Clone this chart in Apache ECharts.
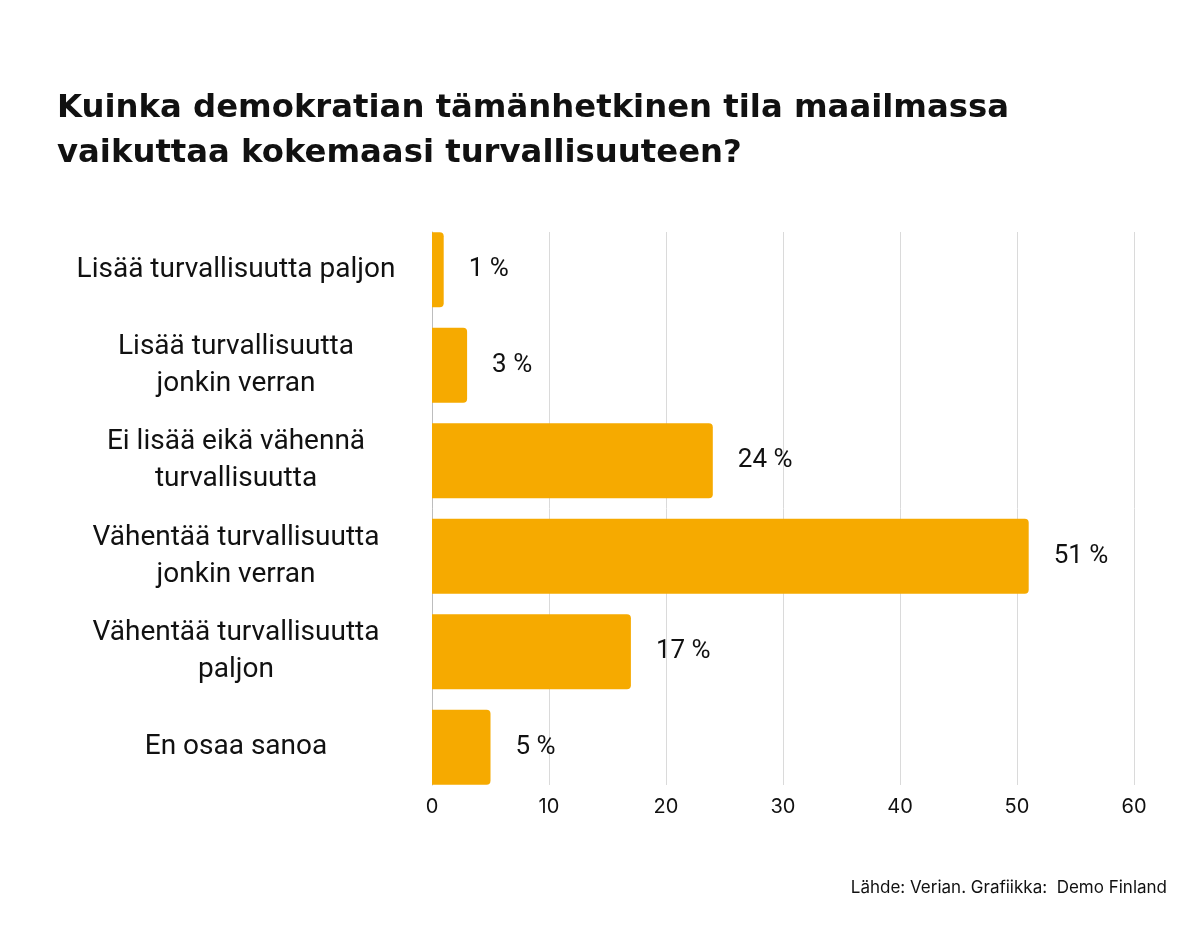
<!DOCTYPE html>
<html><head><meta charset="utf-8">
<script src="https://cdn.jsdelivr.net/npm/echarts@6/dist/echarts.min.js"></script>
<style>html,body{margin:0;padding:0;background:#fff}#c{width:1200px;height:950px}</style>
</head><body><div id="c"></div>
<script>
const categories = [
  "Lisää turvallisuutta paljon",
  "Lisää turvallisuutta\njonkin verran",
  "Ei lisää eikä vähennä\nturvallisuutta",
  "Vähentää turvallisuutta\njonkin verran",
  "Vähentää turvallisuutta\npaljon",
  "En osaa sanoa"
];
const values = [1, 3, 24, 51, 17, 5];
const xTicks = [0, 10, 20, 30, 40, 50, 60];
const titleText = "Kuinka demokratian tämänhetkinen tila maailmassa\nvaikuttaa kokemaasi turvallisuuteen?";
const sourceText = "Lähde: Verian. Grafiikka:  Demo Finland";

const xMin = xTicks[0], xMax = xTicks[xTicks.length - 1];
const chart = echarts.init(document.getElementById('c'), null, {renderer: 'canvas'});
chart.setOption({
  backgroundColor: '#fff',
  animation: false,
  title: {
    text: titleText,
    left: 52, top: 81,
    textStyle: {fontFamily: 'DejaVu Sans', fontWeight: 'bold', fontSize: 32.3, lineHeight: 45, color: '#111'}
  },
  graphic: [{
    type: 'text', right: 33, top: 879,
    style: {text: sourceText, font: '17px Inter', fill: '#111'}
  }],
  grid: [
    {left: 432, right: 66, top: 232, bottom: 165, containLabel: false},
    {left: 432, right: 66, top: 222, bottom: 155, containLabel: false}
  ],
  xAxis: [{
    gridIndex: 0, type: 'value', min: xMin, max: xMax, interval: 10,
    axisLine: {show: false}, axisTick: {show: false},
    splitLine: {show: true, lineStyle: {color: '#dadada', width: 1}},
    axisLabel: {fontFamily: 'Inter', fontSize: 20, color: '#111', margin: 12}
  }, {
    gridIndex: 1, type: 'value', min: xMin, max: xMax, interval: 10,
    axisLine: {show: false}, axisTick: {show: false}, splitLine: {show: false}, axisLabel: {show: false}
  }],
  yAxis: [{
    gridIndex: 0, type: 'category', data: categories, inverse: true,
    axisLine: {show: true, lineStyle: {color: '#bdbdbd', width: 1}},
    axisTick: {show: false}, axisLabel: {show: false}
  }, {
    gridIndex: 1, type: 'category', data: categories, inverse: true,
    axisLine: {show: false}, axisTick: {show: false},
    axisLabel: {fontFamily: 'Roboto', fontSize: 28, lineHeight: 37, color: '#111', align: 'center', margin: 196}
  }],
  series: [{
    type: 'bar', xAxisIndex: 1, yAxisIndex: 1, data: values, barCategoryGap: '21.5%',
    itemStyle: {color: '#F6AA00', borderRadius: [0, 4, 4, 0]},
    label: {show: true, position: 'right', distance: 25, formatter: '{c} %',
      fontFamily: 'Roboto', fontSize: 26, color: '#111'}
  }]
});
</script></body></html>
